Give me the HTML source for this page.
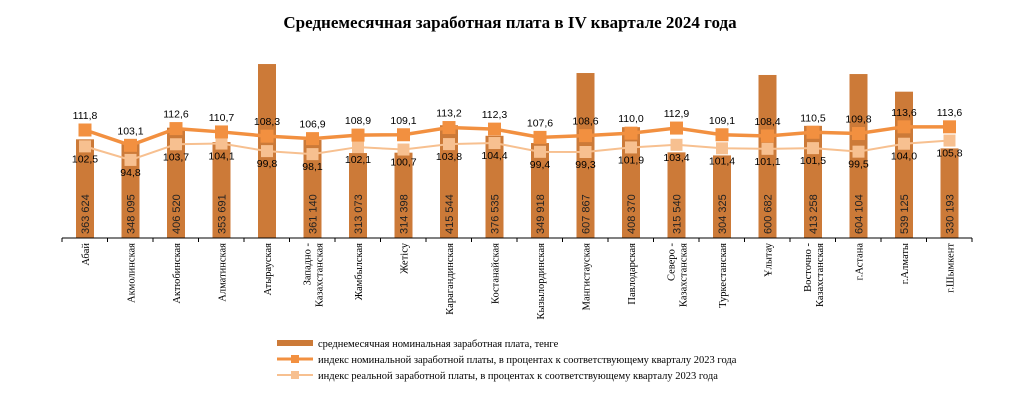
<!DOCTYPE html><html><head><meta charset="utf-8"><style>body{margin:0;background:#fff}svg{display:block}</style></head><body>
<svg width="1021" height="419" xmlns="http://www.w3.org/2000/svg" font-family="Liberation Sans, sans-serif">
<text x="510" y="28" text-anchor="middle" font-family="Liberation Serif, serif" font-weight="bold" font-size="17">Среднемесячная заработная плата в IV квартале 2024 года</text>
<g id="c"></g>
<g font-size="10.5" fill="#000" font-family="Liberation Serif, serif">
<rect x="277" y="340" width="36" height="6" fill="#cc7a38"/><text x="318" y="347">среднемесячная номинальная заработная плата, тенге</text>
<line x1="277" y1="359" x2="313" y2="359" stroke="#f29040" stroke-width="3"/><rect x="291" y="355" width="8" height="8" fill="#f29040"/><text x="318" y="363">индекс  номинальной заработной платы, в процентах к соответствующему кварталу 2023 года</text>
<line x1="277" y1="375" x2="313" y2="375" stroke="#f7c090" stroke-width="2"/><rect x="291" y="371" width="8" height="8" fill="#f7c090"/><text x="318" y="379">индекс  реальной заработной платы, в процентах к соответствующему кварталу 2023 года</text>
</g>
</svg>
<script>
const names=[["Абай"],["Акмолинская"],["Актюбинская"],["Алматинская"],["Атырауская"],["Западно -","Казахстанская"],["Жамбылская"],["Жетісу"],["Карагандинская"],["Костанайская"],["Кызылординская"],["Мангистауская"],["Павлодарская"],["Северо -","Казахстанская"],["Туркестанская"],["Ұлытау"],["Восточно -","Казахстанская"],["г.Астана"],["г.Алматы"],["г.Шымкент"]];
const sal=[363624,348095,406520,353691,641000,361140,313073,314398,415544,376535,349918,607867,408370,315540,304325,600682,413258,604104,539125,330193];
const nom=[111.8,103.1,112.6,110.7,108.3,106.9,108.9,109.1,113.2,112.3,107.6,108.6,110.0,112.9,109.1,108.4,110.5,109.8,113.6,113.6];
const real=[102.5,94.8,103.7,104.1,99.8,98.1,102.1,100.7,103.8,104.4,99.4,99.3,101.9,103.4,101.4,101.1,101.5,99.5,104.0,105.8];
const X=i=>85+i*45.5, Y=v=>130-(v-111.8)*1.76, base=238;
let s='';
const fmt=v=>v.toFixed(1).replace('.',',');
sal.forEach((v,i)=>{const h=v*0.0002714;s+=`<rect x="${X(i)-9}" y="${base-h}" width="18" height="${h}" fill="#cc7a38"/>`;
 if(i!=4)s+=`<text transform="translate(${X(i)+4},${base-4}) rotate(-90)" font-size="11" fill="#222">${String(v).replace(/(\d+)(\d{3})$/,'$1 $2')}</text>`;});
s+=`<line x1="62" y1="${base}" x2="972" y2="${base}" stroke="#000" stroke-width="1"/>`;
for(let i=0;i<=20;i++)s+=`<line x1="${62+i*45.5}" y1="${base}" x2="${62+i*45.5}" y2="${base+4}" stroke="#000"/>`;
names.forEach((n,i)=>{n.forEach((t,j)=>{const off=(j-(n.length-1)/2)*12;s+=`<text transform="translate(${X(i)+4+off},243) rotate(-90)" text-anchor="end" font-size="10.5" font-family="Liberation Serif, serif">${t}</text>`;});});
s+=`<polyline points="${real.map((v,i)=>X(i)+','+Y(v)).join(' ')}" fill="none" stroke="#f7c090" stroke-width="2"/>`;
s+=`<polyline points="${nom.map((v,i)=>X(i)+','+Y(v)).join(' ')}" fill="none" stroke="#f29040" stroke-width="3.5"/>`;
real.forEach((v,i)=>{s+=`<rect x="${X(i)-6}" y="${Y(v)-6}" width="12" height="12" fill="#f7c090"/><text x="${X(i)}" y="${Y(v)+16}" text-anchor="middle" font-size="10.5">${fmt(v)}</text>`;});
nom.forEach((v,i)=>{s+=`<rect x="${X(i)-6.5}" y="${Y(v)-6.5}" width="13" height="13" fill="#f29040"/><text x="${X(i)}" y="${Y(v)-11}" text-anchor="middle" font-size="10.5">${fmt(v)}</text>`;});
document.getElementById('c').innerHTML=s;
</script>
</body></html>
